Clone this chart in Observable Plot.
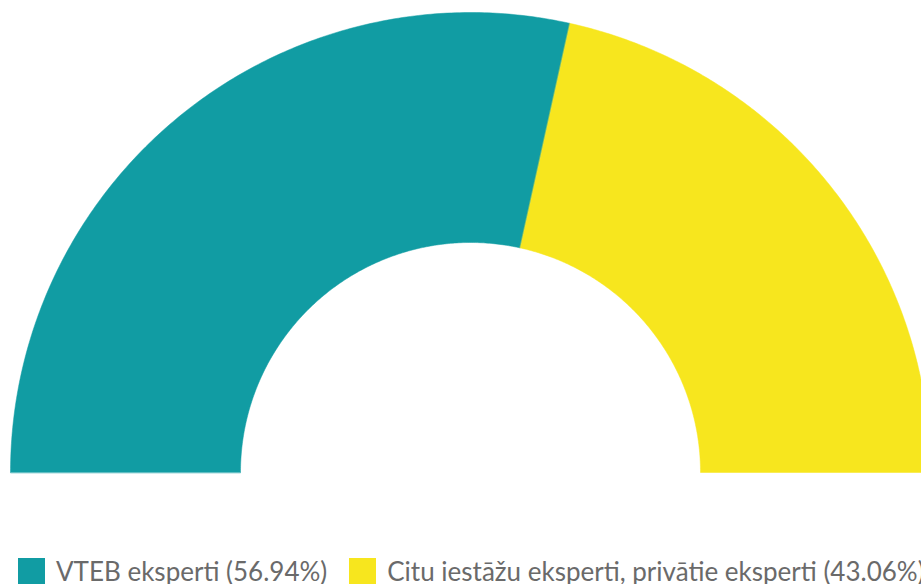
<!DOCTYPE html>
<html>
<head>
<meta charset="utf-8">
<script src="https://cdn.jsdelivr.net/npm/d3@7"></script>
<script src="https://cdn.jsdelivr.net/npm/@observablehq/plot@0.6"></script>
<style>
  html, body { margin: 0; padding: 0; background: #fff; overflow: hidden; }
  #wrap { position: relative; width: 921px; height: 584px; overflow: hidden; }
  #legend { position: absolute; left: 18px; top: 555px; white-space: nowrap;
    font-family: Lato, sans-serif; font-size: 26px; color: #6a6a6a; display: flex; align-items: center; }
  .item { display: flex; align-items: center; margin-right: 22px; }
  .sw { width: 27px; height: 27px; margin-right: 11px; display: inline-block; }
</style>
</head>
<body>
<div id="wrap"><div id="chart"></div><div id="legend"></div></div>
<script>
const categories = ["VTEB eksperti", "Citu iestāžu eksperti, privātie eksperti"];
const values = [56.94, 43.06];
const colors = ["#119ca3", "#f7e61e"];

const outerR = 460, innerR = 230;
const pie = d3.pie().sort(null).startAngle(-Math.PI / 2).endAngle(Math.PI / 2)(values);

const pts = [];
pie.forEach((s, i) => {
  const n = 200;
  for (let k = 0; k <= n; k++) {
    const a = s.startAngle + (s.endAngle - s.startAngle) * k / n;
    pts.push({cat: categories[i], x: outerR * Math.sin(a), y: outerR * Math.cos(a)});
  }
  for (let k = n; k >= 0; k--) {
    const a = s.startAngle + (s.endAngle - s.startAngle) * k / n;
    pts.push({cat: categories[i], x: innerR * Math.sin(a), y: innerR * Math.cos(a)});
  }
});

const chart = Plot.plot({
  width: 921, height: 480,
  margin: 0,
  x: {type: "linear", domain: [-470, 451], axis: null},
  y: {type: "linear", domain: [-8, 472], axis: null},
  color: {domain: categories, range: colors},
  marks: [
    Plot.line(pts, {x: "x", y: "y", z: "cat", fill: "cat", stroke: "cat", strokeWidth: 0.5, curve: "linear-closed"})
  ]
});
document.getElementById("chart").appendChild(chart);

const legend = document.getElementById("legend");
categories.forEach((c, i) => {
  const it = document.createElement("span");
  it.className = "item";
  it.innerHTML = `<span class="sw" style="background:${colors[i]}"></span>${c} (${values[i].toFixed(2)}%)`;
  legend.appendChild(it);
});
</script>
</body>
</html>
